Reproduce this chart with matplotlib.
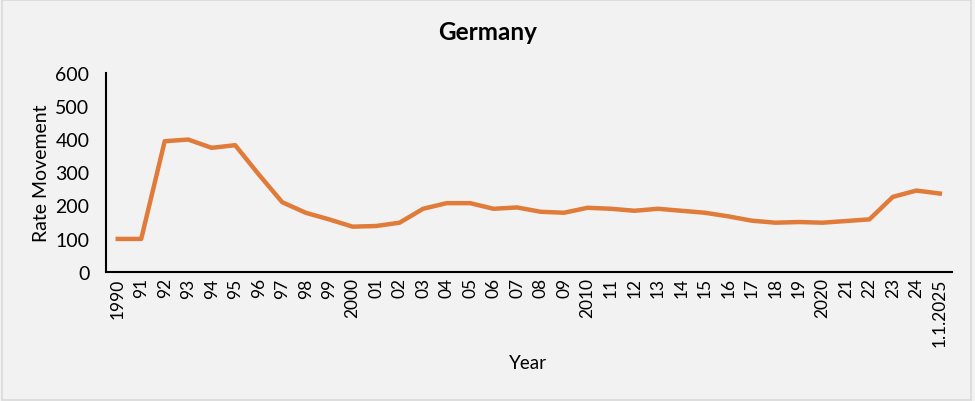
import matplotlib
matplotlib.use("Agg")
import matplotlib.pyplot as plt

# year labels as they appear on the axis
years = ["1990", "91", "92", "93", "94", "95", "96", "97", "98", "99",
         "2000", "01", "02", "03", "04", "05", "06", "07", "08", "09",
         "2010", "11", "12", "13", "14", "15", "16", "17", "18", "19",
         "2020", "21", "22", "23", "24", "1.1.2025"]

# rate movement values
rates = [99, 99, 394, 399, 374, 382, 294, 210, 178, 158,
         136, 138, 148, 190, 207, 207, 190, 194, 181, 178,
         193, 190, 184, 190, 184, 178, 167, 154, 148, 150,
         148, 153, 158, 226, 245, 236]

plt.rcParams["font.family"] = ["Lato", "DejaVu Sans"]

bg = "#f2f2f2"
fig = plt.figure(figsize=(9.75, 4.02), dpi=100, facecolor=bg)
fig.patches.append(plt.Rectangle((0.002, 0.003), 0.994, 0.994, transform=fig.transFigure,
                                 fill=False, edgecolor="#d9d9d9", linewidth=1.2))
ax = fig.add_axes([0.1087, 0.3216, 0.8673, 0.4944], facecolor=bg)

x = list(range(len(years)))
ax.plot(x, rates, color="#E07B39", linewidth=3.2, solid_joinstyle="round")

ax.set_xlim(-0.5, len(years) - 0.5)
ax.set_ylim(0, 600)
ax.set_yticks(range(0, 601, 100))
ax.set_xticks(x)
ax.set_xticklabels(years, rotation=90, fontsize=12.5)
ax.tick_params(axis="y", labelsize=14, length=0, pad=12)
ax.tick_params(axis="x", length=0, pad=4)

for side in ["top", "right"]:
    ax.spines[side].set_visible(False)
ax.spines["left"].set_linewidth(1.5)
ax.spines["bottom"].set_linewidth(1.5)

ax.set_ylabel("Rate Movement", fontsize=14, labelpad=4)
fig.text(0.541, 0.097, "Year", ha="center", va="center", fontsize=13.5)
fig.text(0.5, 0.918, "Germany", ha="center", va="center", fontsize=17.5, fontweight="bold")

fig.savefig("out.png", dpi=100, facecolor=bg)
